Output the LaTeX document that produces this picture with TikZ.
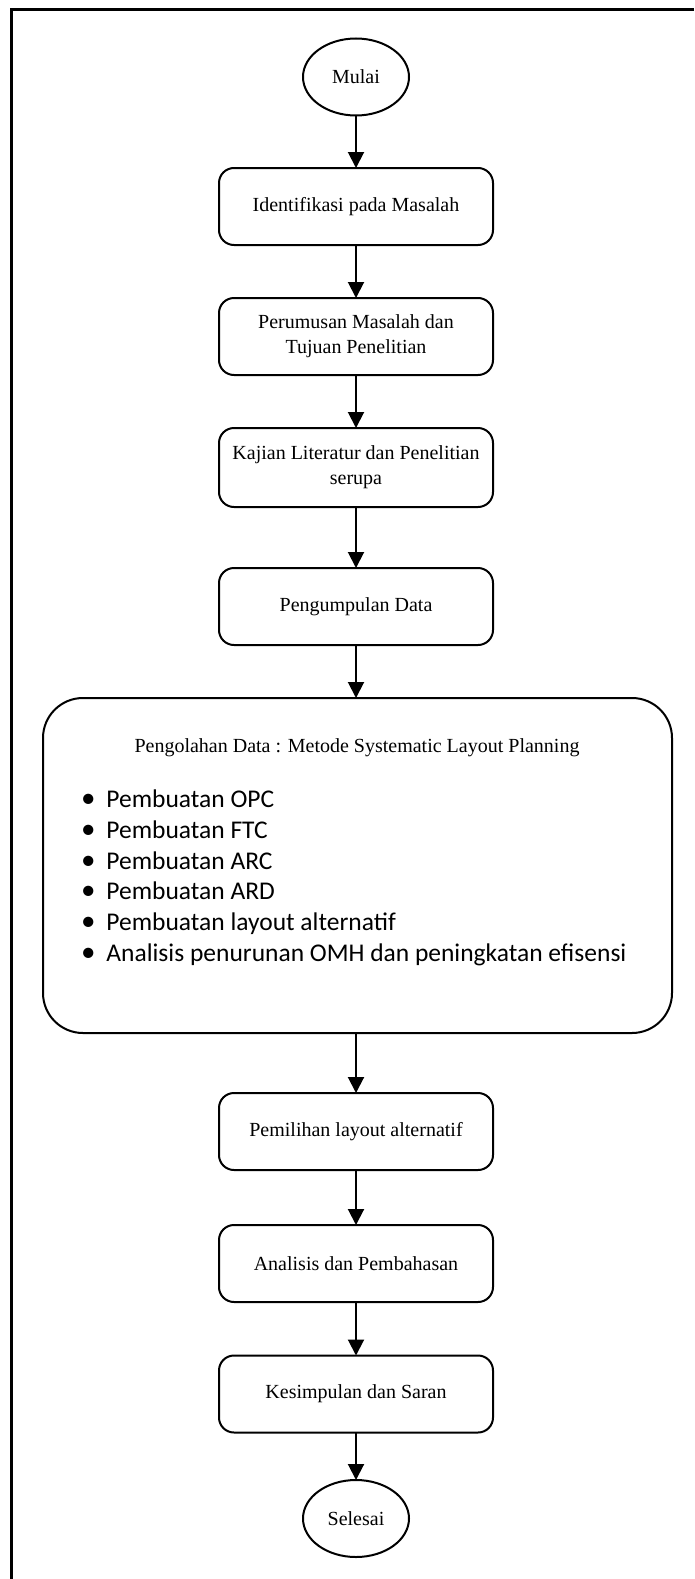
\documentclass[tikz,border=0pt]{standalone}
\usepackage{fontspec}
\setmainfont{Liberation Serif}
\newfontfamily\listfont{Carlito}
\usetikzlibrary{arrows.meta,shapes.geometric}

\begin{document}
\begin{tikzpicture}[x=1pt,y=-1pt,
  every node/.style={inner sep=0pt, outer sep=0pt},
  boxtext/.style={font=\fontsize{20}{25}\selectfont, align=center},
  stepbox/.style={boxtext, draw, line width=2pt, rounded corners=15pt,
    minimum width=274pt, minimum height=77pt},
  terminal/.style={boxtext, draw, ellipse, line width=2pt,
    minimum width=106pt, minimum height=77pt},
  bigbox/.style={draw, line width=2pt, rounded corners=40pt,
    minimum width=629pt, minimum height=335pt},
  flow/.style={line width=2pt, -{Triangle[width=16pt,length=16pt]}},
  frame/.style={line width=3pt}
]
\useasboundingbox (0,0) rectangle (694,1579);

% outer frame (top and left edges)
\draw[frame] (694,10) -- (11,10) -- (11,1579);

% process steps
\node[terminal] (start) at (356,77) {Mulai};
\node[stepbox] (s1) at (356,206.5) {Identifikasi pada Masalah};
\node[stepbox] (s2) at (356,336.5) {Perumusan Masalah dan\\Tujuan Penelitian};
\node[stepbox, minimum height=79pt] (s3) at (356,467.5) {Kajian Literatur dan Penelitian\\serupa};
\node[stepbox] (s4) at (356,606.5) {Pengumpulan Data};

% data processing block
\node[bigbox] (s5) at (357.5,865.5) {};
\node[boxtext, anchor=base] (s5title) at (357,752) {Pengolahan Data : Metode Systematic Layout Planning};
\node[anchor=north west, font=\listfont\fontsize{25.5}{30.8}\selectfont, align=left] (s5list) at (81,786)
{\begin{tabular}{@{}l@{\hspace{11pt}}l@{}}
{\fontsize{29}{30.8}\selectfont\textbullet} & Pembuatan OPC\\
{\fontsize{29}{30.8}\selectfont\textbullet} & Pembuatan FTC\\
{\fontsize{29}{30.8}\selectfont\textbullet} & Pembuatan ARC\\
{\fontsize{29}{30.8}\selectfont\textbullet} & Pembuatan ARD\\
{\fontsize{29}{30.8}\selectfont\textbullet} & Pembuatan layout alternatif\\
{\fontsize{29}{30.8}\selectfont\textbullet} & Analisis penurunan OMH dan peningkatan efisensi
\end{tabular}};

\node[stepbox] (s6) at (356,1131.5) {Pemilihan layout alternatif};
\node[stepbox] (s7) at (356,1263.5) {Analisis dan Pembahasan};
\node[stepbox] (s8) at (356,1394) {Kesimpulan dan Saran};
\node[terminal] (stop) at (356,1518.5) {Selesai};

% connectors
\draw[flow] (start) -- (s1);
\draw[flow] (s1) -- (s2);
\draw[flow] (s2) -- (s3);
\draw[flow] (s3) -- (s4);
\draw[flow] (s4.south) -- (s4.south |- s5.north);
\draw[flow] (s4.south |- s5.south) -- (s6.north);
\draw[flow] (s6) -- (s7);
\draw[flow] (s7) -- (s8);
\draw[flow] (s8) -- (stop);
\end{tikzpicture}
\end{document}
